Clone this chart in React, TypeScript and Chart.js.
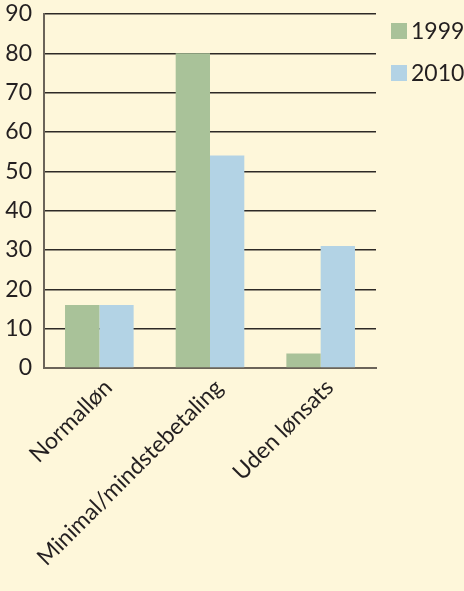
import React, { useEffect, useRef } from "react";
import { Chart, registerables } from "chart.js";

Chart.register(...registerables);

const categories = ["Normalløn", "Minimal/mindstebetaling", "Uden lønsats"];
const series1999 = [16, 80, 3.7];
const series2010 = [16, 54, 31];
const seriesLabels = ["1999", "2010"];
const yTicks = [0, 10, 20, 30, 40, 50, 60, 70, 80, 90];

const GREEN = "#A9C299";
const BLUE = "#B3D3E5";
const BG = "#FEF7DA";
const TEXT = "#231F20";
const FONT = "Lato, 'Noto Sans', sans-serif";

const legendPlugin = {
  id: "customLegend",
  afterDraw(chart: any) {
    const ctx = chart.ctx;
    const x0 = chart.chartArea.right + 15;
    const colors = [GREEN, BLUE];
    ctx.save();
    ctx.font = `23px ${FONT}`;
    ctx.textBaseline = "middle";
    ctx.textAlign = "left";
    seriesLabels.forEach((lab, i) => {
      const cy = 31 + i * 42;
      ctx.fillStyle = colors[i];
      ctx.fillRect(x0, cy - 8, 16, 16);
      ctx.fillStyle = TEXT;
      ctx.fillText(lab, x0 + 20, cy + 1);
    });
    ctx.restore();
  },
};

export default function App() {
  const ref = useRef<HTMLCanvasElement | null>(null);
  useEffect(() => {
    document.body.style.margin = "0";
    if (!ref.current) return;
    const chart = new Chart(ref.current, {
      type: "bar",
      data: {
        labels: categories,
        datasets: [
          { label: seriesLabels[0], data: series1999, backgroundColor: GREEN, borderWidth: 0, categoryPercentage: 0.62, barPercentage: 1 },
          { label: seriesLabels[1], data: series2010, backgroundColor: BLUE, borderWidth: 0, categoryPercentage: 0.62, barPercentage: 1 },
        ],
      },
      options: {
        animation: false,
        responsive: false,
        maintainAspectRatio: false,
        layout: { padding: { left: 0, right: 88, top: 0, bottom: 0 } },
        plugins: { legend: { display: false }, tooltip: { enabled: false } },
        scales: {
          x: {
            grid: { display: false, drawTicks: false },
            border: { display: true, color: "#6B6459", width: 2 },
            afterFit: (axis: any) => {
              axis.height = 223;
            },
            ticks: {
              color: TEXT,
              font: { family: FONT, size: 23 },
              minRotation: 45,
              maxRotation: 45,
              padding: 6,
              labelOffset: 9,
            },
          },
          y: {
            min: 0,
            max: 90,
            afterBuildTicks: (axis: any) => {
              axis.ticks = yTicks.map((v) => ({ value: v }));
            },
            afterFit: (axis: any) => {
              axis.width = 44;
              axis.paddingTop = 14;
            },
            grid: { color: "#2E2A26", lineWidth: 1.5, drawTicks: false },
            border: { display: true, color: "#6B6459", width: 2 },
            ticks: {
              color: TEXT,
              font: { family: FONT, size: 23 },
              padding: 12,
            },
          },
        },
      },
      plugins: [legendPlugin],
    });
    return () => chart.destroy();
  }, []);
  return (
    <div style={{ position: "absolute", left: 0, top: 0, width: 464, height: 591, background: BG }}>
      <canvas ref={ref} width={464} height={591} style={{ display: "block" }} />
    </div>
  );
}
